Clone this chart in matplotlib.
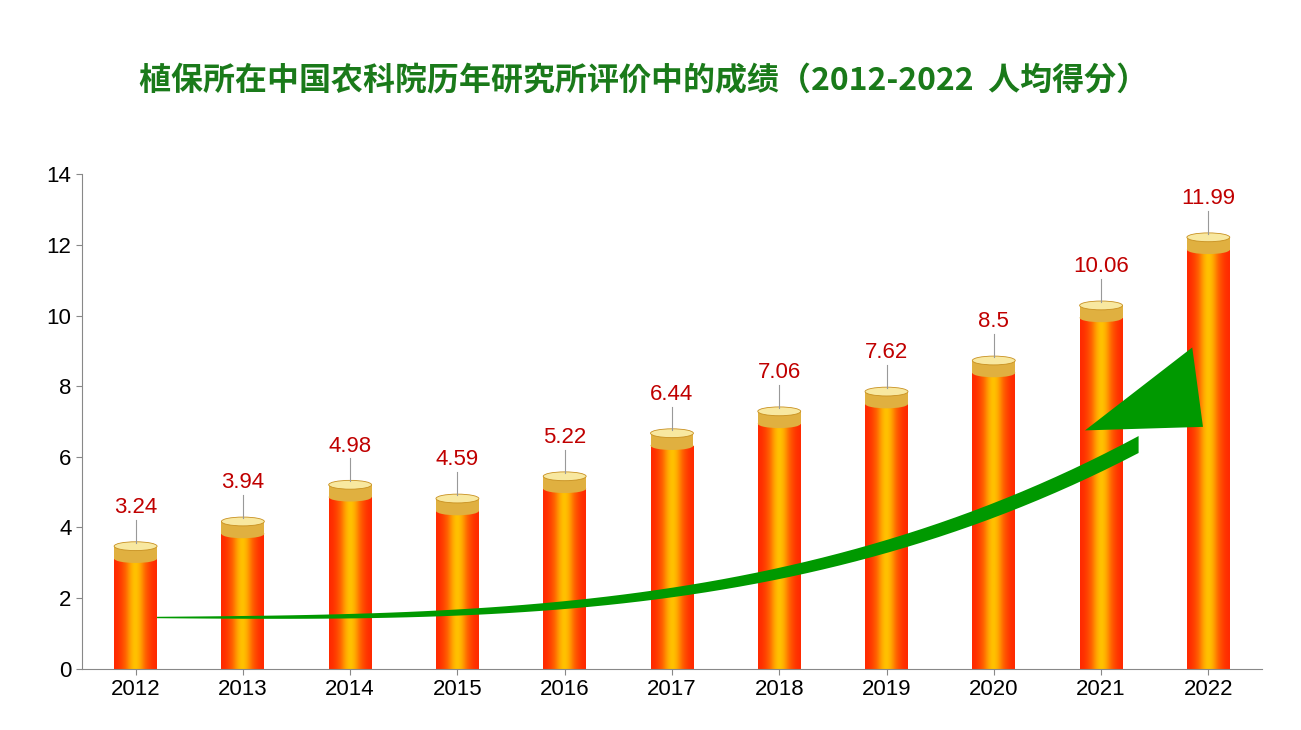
import numpy as np
import matplotlib.pyplot as plt
from matplotlib.patches import Ellipse, Rectangle, Polygon

plt.rcParams['font.family'] = 'Liberation Sans'

years = ['2012', '2013', '2014', '2015', '2016', '2017', '2018', '2019', '2020', '2021', '2022']
scores = [3.24, 3.94, 4.98, 4.59, 5.22, 6.44, 7.06, 7.62, 8.5, 10.06, 11.99]
title = '植保所在中国农科院历年研究所评价中的成绩（2012-2022  人均得分）'

fig = plt.figure(figsize=(13.01, 7.30), dpi=100)
ax = fig.add_axes([0.063, 0.084, 0.907, 0.677])
ax.set_xlim(-0.5, len(years) - 0.5)
ax.set_ylim(0, 14)
ax.set_yticks(range(0, 15, 2))
ax.set_xticks(range(len(years)))
ax.set_xticklabels(years)
ax.tick_params(labelsize=16, length=4, color='#888888')
for s in ['top', 'right']:
    ax.spines[s].set_visible(False)
for s in ['left', 'bottom']:
    ax.spines[s].set_color('#888888')

# horizontal gradient for the cylinders
g = np.linspace(-1, 1, 64)
grad = np.exp(-(g / 0.55) ** 2)
cmap = plt.matplotlib.colors.LinearSegmentedColormap.from_list('cyl', ['#ff2a00', '#ff6a00', '#ffc000'])
w = 0.4
for i, v in enumerate(scores):
    top = v - 0.12
    im = ax.imshow(grad[None, :], cmap=cmap, aspect='auto', extent=[i - w / 2, i + w / 2, 0, top], zorder=2)
    rect = Rectangle((i - w / 2, 0), w, top, transform=ax.transData)
    im.set_clip_path(rect)
    ax.add_patch(Rectangle((i - w / 2, top), w, 0.35, facecolor='#e0b040', edgecolor='none', zorder=3))
    ax.add_patch(Ellipse((i, top), w, 0.25, facecolor='#e0b040', edgecolor='none', zorder=3))
    ax.add_patch(Ellipse((i, top + 0.35), w, 0.25, facecolor='#f8e8a0', edgecolor='#c89020', lw=0.6, zorder=3))
    ax.plot([i, i], [top + 0.45, top + 1.1], color='#999999', lw=0.8, zorder=3)
    ax.text(i, top + 1.15, f'{v:g}', ha='center', va='bottom', fontsize=16, color='#c00000', zorder=4)

# green growth arrow
t = np.linspace(0, 1, 60)
xs = 0.2 + t * 9.15
ys = 1.45 + 4.9 * t ** 3.0
wid = 0.02 + 0.22 * t
upper = np.column_stack([xs, ys + wid])
lower = np.column_stack([xs, ys - wid])[::-1]
ax.add_patch(Polygon(np.vstack([upper, lower]), closed=True, facecolor='#009900', edgecolor='none', zorder=5))
ax.add_patch(Polygon([[8.85, 6.75], [9.85, 9.1], [9.95, 6.85]], closed=True, facecolor='#009900', edgecolor='none', zorder=5))

fig.text(0.495, 0.888, title, ha='center', va='center', fontsize=23, fontweight='bold',
         color='#1a7a1a', family=['Noto Sans CJK SC', 'Noto Sans CJK JP', 'DejaVu Sans'])
fig.savefig('out.png', dpi=100)
